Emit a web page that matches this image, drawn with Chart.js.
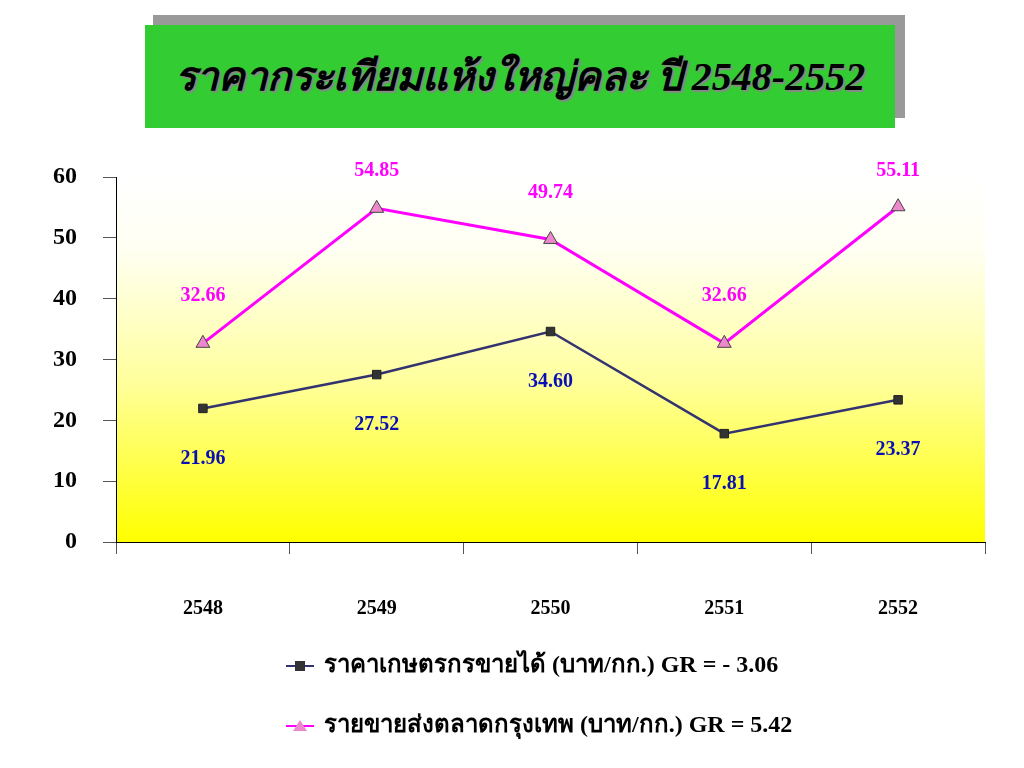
<!DOCTYPE html>
<html>
<head>
<meta charset="utf-8">
<script src="https://cdn.jsdelivr.net/npm/chart.js@4.4.1/dist/chart.umd.min.js"></script>
<style>
  body { margin: 0; background: #fff; }
  #wrap { position: relative; width: 1024px; height: 768px; }
  #shadow { position: absolute; left: 153px; top: 15px; width: 752px; height: 103px; background: #999999; }
  #title { position: absolute; left: 145px; top: 25px; width: 750px; height: 103px; background: #33CC33;
    font-family: "Liberation Serif", "Times New Roman", serif; font-style: italic; font-weight: bold;
    font-size: 40px; color: #000; text-align: center; line-height: 103px;
    text-shadow: 2px 2px 1px #888; }
  #legend { position: absolute; left: 286px; top: 644px; font-family: "Liberation Serif", "Times New Roman", serif;
    font-weight: bold; font-size: 24px; color: #000; }
  .item { height: 60px; line-height: 40px; white-space: nowrap; }
  .item canvas { vertical-align: middle; margin-right: 10px; }
</style>
</head>
<body>
<div id="wrap">
  <canvas id="mycanvas" width="1024" height="768"></canvas>
  <div id="shadow"></div>
  <div id="title">ราคากระเทียมแห้งใหญ่คละ ปี 2548-2552</div>
  <div id="legend"></div>
</div>
<script>
var years = ["2548", "2549", "2550", "2551", "2552"];
var farmPrice = [21.96, 27.52, 34.60, 17.81, 23.37];
var bkkPrice = [32.66, 54.85, 49.74, 32.66, 55.11];
var seriesNames = ["ราคาเกษตรกรขายได้ (บาท/กก.) GR = - 3.06", "รายขายส่งตลาดกรุงเทพ (บาท/กก.) GR = 5.42"];
var yTicks = [0, 10, 20, 30, 40, 50, 60];

var serif = "'Liberation Serif', 'Times New Roman', serif";

// yellow gradient behind the plot area
var bgPlugin = {
  id: "bg",
  beforeDraw: function(chart) {
    var a = chart.chartArea, ctx = chart.ctx;
    var g = ctx.createLinearGradient(0, a.top, 0, a.bottom);
    g.addColorStop(0, "#ffffff");
    g.addColorStop(0.2, "#fffff2");
    g.addColorStop(0.55, "#ffffa0");
    g.addColorStop(1, "#ffff00");
    ctx.save();
    ctx.fillStyle = g;
    ctx.fillRect(a.left, a.top, a.right - a.left, a.bottom - a.top);
    ctx.restore();
  }
};

// value labels: pink above, blue below
var labelPlugin = {
  id: "vals",
  afterDatasetsDraw: function(chart) {
    var ctx = chart.ctx;
    ctx.save();
    ctx.font = "bold 20px " + serif;
    ctx.textAlign = "center";
    ctx.textBaseline = "middle";
    chart.data.datasets.forEach(function(ds, i) {
      var meta = chart.getDatasetMeta(i);
      meta.data.forEach(function(pt, j) {
        var y = ds.labelPos === "above" ? pt.y - 47 : pt.y + 50;
        if (y < 171) y = 171;
        ctx.fillStyle = ds.labelColor;
        ctx.fillText(ds.data[j].toFixed(2), pt.x, y);
      });
    });
    ctx.restore();
  }
};

var chartdata = {
  labels: years,
  datasets: [
    {
      label: seriesNames[0],
      data: farmPrice,
      borderColor: "#333370",
      borderWidth: 2.5,
      backgroundColor: "#333333",
      pointStyle: "rect",
      pointRadius: 6,
      pointBorderColor: "#222222",
      pointBorderWidth: 1,
      lineTension: 0,
      fill: false,
      labelColor: "#0a10b4",
      labelPos: "below"
    },
    {
      label: seriesNames[1],
      data: bkkPrice,
      borderColor: "#ff00ff",
      borderWidth: 3,
      backgroundColor: "#ee88cc",
      pointStyle: "triangle",
      pointRadius: 8,
      pointBorderColor: "#444444",
      pointBorderWidth: 1,
      lineTension: 0,
      fill: false,
      labelColor: "#ff00ff",
      labelPos: "above"
    }
  ]
};

var ctx = document.getElementById("mycanvas");
var LineGraph = new Chart(ctx, {
  type: "line",
  data: chartdata,
  plugins: [bgPlugin, labelPlugin],
  options: {
    responsive: false,
    animation: false,
    layout: { padding: { left: 0, right: 39, top: 177, bottom: 0 } },
    plugins: { legend: { display: false }, tooltip: { enabled: false } },
    scales: {
      x: {
        offset: true,
        grid: { offset: true, drawOnChartArea: false, color: "#555", tickLength: 12 },
        border: { color: "#000", width: 1 },
        ticks: { color: "#000", font: { family: serif, size: 20, weight: "bold" }, padding: 43 },
        afterFit: function(s) { s.height = 226; }
      },
      y: {
        min: 0, max: 60,
        afterBuildTicks: function(s) { s.ticks = yTicks.map(function(v) { return { value: v }; }); },
        grid: { drawOnChartArea: false, color: "#555", tickLength: 13 },
        border: { color: "#000", width: 1 },
        ticks: { color: "#000", font: { family: serif, size: 24, weight: "bold" }, padding: 26 },
        afterFit: function(s) { s.width = 116; }
      }
    }
  }
});

// legend below the chart
var leg = document.getElementById("legend");
chartdata.datasets.forEach(function(ds) {
  var row = document.createElement("div");
  row.className = "item";
  var ic = document.createElement("canvas");
  ic.width = 28; ic.height = 16;
  var c = ic.getContext("2d");
  c.strokeStyle = ds.borderColor; c.lineWidth = 2;
  c.beginPath(); c.moveTo(0, 8); c.lineTo(28, 8); c.stroke();
  c.fillStyle = ds.backgroundColor; c.strokeStyle = ds.pointBorderColor; c.lineWidth = 1;
  if (ds.pointStyle === "rect") { c.fillRect(9, 3, 10, 10); }
  else { c.beginPath(); c.moveTo(14, 2); c.lineTo(21, 13); c.lineTo(7, 13); c.closePath(); c.fill(); }
  row.appendChild(ic);
  row.appendChild(document.createTextNode(ds.label));
  leg.appendChild(row);
});
</script>
</body>
</html>
